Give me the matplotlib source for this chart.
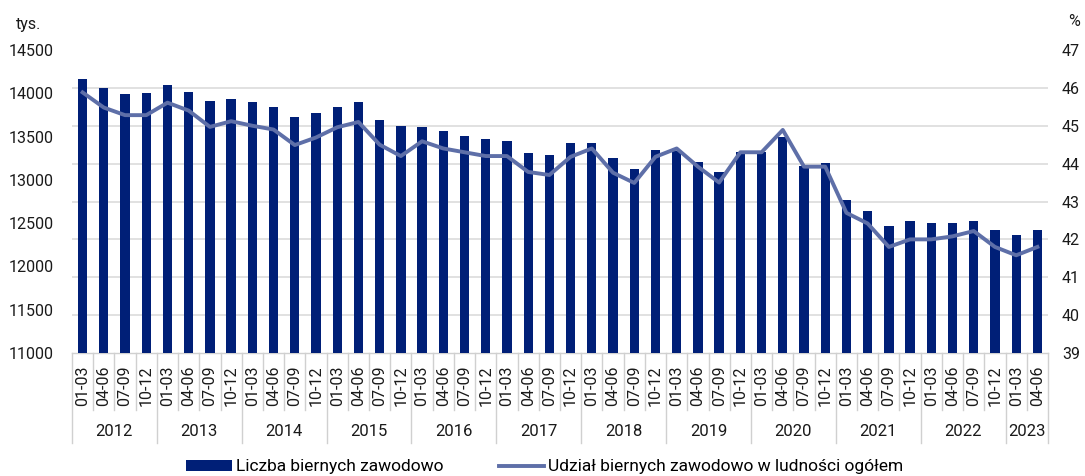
import matplotlib
matplotlib.use("Agg")
import matplotlib.pyplot as plt
import matplotlib.transforms as mtransforms
from matplotlib.ticker import FixedLocator
import numpy as np

plt.rcParams['font.family'] = ['Roboto', 'DejaVu Sans']

years = ['2012', '2013', '2014', '2015', '2016', '2017', '2018', '2019',
         '2020', '2021', '2022', '2023']
quarters_per_year = [4, 4, 4, 4, 4, 4, 4, 4, 4, 4, 4, 2]
quarter_names = ['01-03', '04-06', '07-09', '10-12']

liczba = [14165, 14064, 13995, 14003, 14095, 14014, 13910, 13929,
          13895, 13840, 13724, 13778, 13847, 13902, 13686, 13621,
          13609, 13563, 13509, 13467, 13447, 13312, 13282, 13424,
          13424, 13251, 13127, 13343, 13332, 13208, 13092, 13324,
          13324, 13497, 13158, 13197, 12773, 12642, 12468, 12530,
          12507, 12507, 12530, 12426, 12364, 12426]

udzial = [45.88, 45.48, 45.28, 45.28, 45.61, 45.40, 44.97, 45.12,
          45.00, 44.90, 44.49, 44.69, 44.96, 45.10, 44.50, 44.20,
          44.59, 44.40, 44.30, 44.20, 44.20, 43.78, 43.70, 44.18,
          44.40, 43.76, 43.49, 44.18, 44.40, 43.92, 43.50, 44.30,
          44.30, 44.89, 43.92, 43.92, 42.70, 42.42, 41.80, 42.00,
          42.00, 42.08, 42.22, 41.80, 41.58, 41.80]

labels = []
for n in quarters_per_year:
    labels += quarter_names[:n]

bar_color = '#001F77'
line_color = '#5E6FA8'
grid_color = '#D9D9D9'
sep_color = '#D0D0D0'
text_color = '#1a1a1a'

fig = plt.figure(figsize=(10.85, 4.76), dpi=100)
fig.subplots_adjust(left=72/1085, right=1048/1085, top=1-50/476, bottom=1-353/476)
ax = fig.add_subplot(111)
ax2 = ax.twinx()

x = np.arange(len(liczba))
ax.bar(x, liczba, width=0.44, color=bar_color, zorder=2,
       label='Liczba biernych zawodowo')
ax2.plot(x, udzial, color=line_color, lw=2.8, zorder=3,
         label='Udział biernych zawodowo w ludności ogółem')

ax.set_xlim(-0.5, len(liczba) - 0.5)
ax.set_ylim(11000, 14500)
ax2.set_ylim(39, 47)
ax.set_yticks(np.arange(11000, 14501, 500))
ax2.set_yticks(np.arange(39, 48, 1))
ax.yaxis.set_minor_locator(FixedLocator(np.linspace(11000, 14500, 9)))
ax.grid(True, which='minor', axis='y', color=grid_color, lw=1.1, zorder=0)
ax.grid(False, which='major')
ax.set_axisbelow(True)

for a in (ax, ax2):
    for s in a.spines.values():
        s.set_visible(False)
ax.tick_params(axis='y', which='both', length=0, labelsize=11.5, pad=13, labelcolor=text_color)
ax2.tick_params(axis='y', length=0, labelsize=11.5, pad=10, labelcolor=text_color)

ax.set_xticks(x)
ax.set_xticklabels(labels, rotation=90, fontsize=11.5, color=text_color)
ax.tick_params(axis='x', length=0, pad=9)

# Category separators
trans = mtransforms.blended_transform_factory(ax.transData, ax.transAxes)
px_to_axes = 1.0 / (353 - 50)
ax.plot([-0.5, len(liczba) - 0.5], [0, 0], transform=trans, color=sep_color,
        lw=1, clip_on=False, zorder=1)
boundaries_year = np.cumsum([0] + quarters_per_year) - 0.5
for b in np.arange(-0.5, len(liczba), 1.0):
    is_year = np.any(np.isclose(boundaries_year, b))
    depth = 90 if is_year else 57
    ax.plot([b, b], [0, -depth * px_to_axes], transform=trans, color=sep_color,
            lw=1, clip_on=False)
for i, yr in enumerate(years):
    center = (boundaries_year[i] + boundaries_year[i + 1]) / 2
    ax.text(center, -79 * px_to_axes, yr, transform=trans, ha='center',
            va='center', fontsize=12, color=text_color)

fig.text(16/1085, 1-24/476, 'tys.', fontsize=11.5, va='center', ha='left', color=text_color)
fig.text(1080/1085, 1-22/476, '%', fontsize=11.5, va='center', ha='right', color=text_color)

h1, l1 = ax.get_legend_handles_labels()
h2, l2 = ax2.get_legend_handles_labels()
fig.legend(h1 + h2, l1 + l2, loc='center', bbox_to_anchor=(545/1085, 1-467/476),
           ncol=2, frameon=False, fontsize=12.5, handlelength=2.6,
           handleheight=0.55, columnspacing=3.2, handletextpad=0.25)

fig.savefig('out.png', dpi=100)
